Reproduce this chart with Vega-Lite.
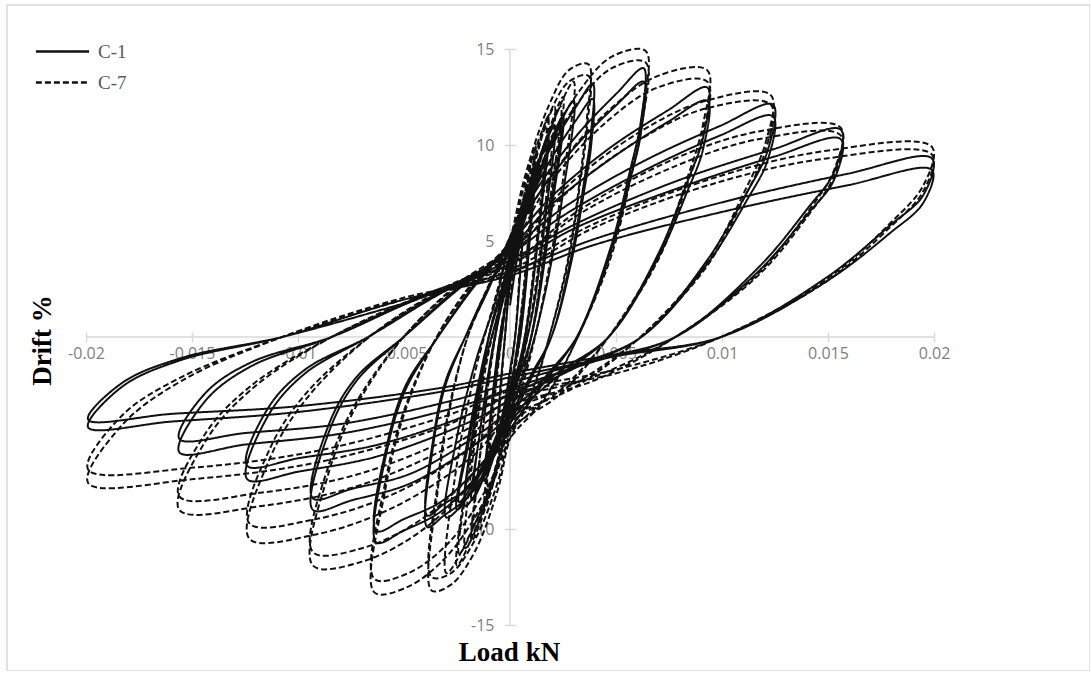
{
"$schema": "https://vega.github.io/schema/vega-lite/v6.json",
"width": 1083, "height": 666,
"autosize": {"type": "none"},
"padding": {"left": 7, "top": 5, "right": 0, "bottom": 0},
"background": "white",
"config": {"view": {"stroke": "#d9d9d9", "strokeWidth": 1.5}},
"resolve": {"axis": {"x": "independent", "y": "independent"}},
"layer": [
{"data": {"values": [{}]},
 "mark": {"type": "rule", "color": "#d9d9d9", "strokeWidth": 1.5},
 "encoding": {"x": {"datum": -0.02, "type": "quantitative", "scale": {"domain": [-0.023726, 0.027358], "nice": false, "zero": false},
    "axis": {"orient": "bottom", "values": [-0.02, -0.015, -0.01, -0.005, 0, 0.005, 0.01, 0.015, 0.02], "offset": -334, "domain": false, "grid": false, "labels": false, "title": null, "tickColor": "#d9d9d9", "tickWidth": 1.5, "tickSize": -5}},
  "x2": {"datum": 0.02},
  "y": {"datum": 0, "type": "quantitative", "scale": {"domain": [-17.3958, 17.2917], "nice": false, "zero": false},
    "axis": {"orient": "left", "values": [-15, -10, -5, 5, 10, 15], "offset": -503, "domain": false, "grid": false, "labels": false, "title": null, "tickColor": "#d9d9d9", "tickWidth": 1.5, "tickSize": -6}}}},
{"data": {"values": [{}]},
 "mark": {"type": "rule", "color": "#d9d9d9", "strokeWidth": 1.5},
 "encoding": {"y": {"datum": -15, "type": "quantitative", "axis": null}, "y2": {"datum": 15}, "x": {"datum": 0, "type": "quantitative", "axis": null}}},
{"data": {"values": [
{"s":"C-1","x":0,"y":1.65},{"s":"C-1","x":0.0003,"y":3.85},{"s":"C-1","x":0.0006,"y":5.5},{"s":"C-1","x":0.00048,"y":3.3},{"s":"C-1","x":0.00024,"y":0},{"s":"C-1","x":0,"y":-1.75},{"s":"C-1","x":-0.0003,"y":-3.75},{"s":"C-1","x":-0.0006,"y":-5},{"s":"C-1","x":-0.00048,"y":-3},{"s":"C-1","x":-0.00024,"y":0},
{"s":"C-1","x":0,"y":2.7},{"s":"C-1","x":0.0006,"y":6.3},{"s":"C-1","x":0.0012,"y":9},{"s":"C-1","x":0.00096,"y":5.4},{"s":"C-1","x":0.00048,"y":0},{"s":"C-1","x":0,"y":-2.6},{"s":"C-1","x":-0.0006,"y":-5.6},{"s":"C-1","x":-0.0012,"y":-7.5},{"s":"C-1","x":-0.00096,"y":-4.5},{"s":"C-1","x":-0.00048,"y":0},
{"s":"C-1","x":0,"y":2.8},{"s":"C-1","x":0.0006,"y":6},{"s":"C-1","x":0.0011,"y":8.5},{"s":"C-1","x":0.0009,"y":5},{"s":"C-1","x":0.0004,"y":0},{"s":"C-1","x":0,"y":-2.7},{"s":"C-1","x":-0.0006,"y":-5.3},{"s":"C-1","x":-0.0011,"y":-7},{"s":"C-1","x":-0.0009,"y":-4.2},{"s":"C-1","x":-0.0004,"y":0},
{"s":"C-1","x":0,"y":3.2},{"s":"C-1","x":0.0009,"y":7.4},{"s":"C-1","x":0.0018,"y":10.5},{"s":"C-1","x":0.00144,"y":6.3},{"s":"C-1","x":0.00072,"y":0},{"s":"C-1","x":0,"y":-3},{"s":"C-1","x":-0.0009,"y":-6.4},{"s":"C-1","x":-0.0018,"y":-8.5},{"s":"C-1","x":-0.00144,"y":-5.1},{"s":"C-1","x":-0.00072,"y":0},
{"s":"C-1","x":0,"y":3.3},{"s":"C-1","x":0.0009,"y":7.1},{"s":"C-1","x":0.0017,"y":10},{"s":"C-1","x":0.0014,"y":6},{"s":"C-1","x":0.0007,"y":0},{"s":"C-1","x":0,"y":-3.1},{"s":"C-1","x":-0.0009,"y":-6.1},{"s":"C-1","x":-0.0017,"y":-8},{"s":"C-1","x":-0.0014,"y":-4.8},{"s":"C-1","x":-0.0007,"y":0},
{"s":"C-1","x":0,"y":3.5},{"s":"C-1","x":0.00125,"y":8.1},{"s":"C-1","x":0.0025,"y":11.5},{"s":"C-1","x":0.002,"y":6.9},{"s":"C-1","x":0.001,"y":0},{"s":"C-1","x":0,"y":-3.2},{"s":"C-1","x":-0.00125,"y":-6.8},{"s":"C-1","x":-0.0025,"y":-9},{"s":"C-1","x":-0.002,"y":-5.4},{"s":"C-1","x":-0.001,"y":0},
{"s":"C-1","x":0,"y":3.6},{"s":"C-1","x":0.0012,"y":7.8},{"s":"C-1","x":0.0024,"y":11},{"s":"C-1","x":0.0019,"y":6.6},{"s":"C-1","x":0.001,"y":0},{"s":"C-1","x":0,"y":-3.3},{"s":"C-1","x":-0.0012,"y":-6.5},{"s":"C-1","x":-0.0024,"y":-8.6},{"s":"C-1","x":-0.0019,"y":-5.2},{"s":"C-1","x":-0.001,"y":0},
{"s":"C-1","x":0,"y":4},{"s":"C-1","x":0.001,"y":8},{"s":"C-1","x":0.0021,"y":11},{"s":"C-1","x":0.0017,"y":6.5},{"s":"C-1","x":0.0011,"y":1.5},{"s":"C-1","x":0.0006,"y":-1},{"s":"C-1","x":0,"y":-3.5},{"s":"C-1","x":-0.001,"y":-6.8},{"s":"C-1","x":-0.0021,"y":-8.8},{"s":"C-1","x":-0.0017,"y":-4.6},{"s":"C-1","x":-0.0011,"y":-1},{"s":"C-1","x":-0.0005,"y":1.5},
{"s":"C-1","x":0,"y":4.2},{"s":"C-1","x":0.0014,"y":8.6},{"s":"C-1","x":0.003,"y":12.3},{"s":"C-1","x":0.0025,"y":7.5},{"s":"C-1","x":0.0016,"y":2},{"s":"C-1","x":0.0008,"y":-1.4},{"s":"C-1","x":0,"y":-3.9},{"s":"C-1","x":-0.0014,"y":-7.4},{"s":"C-1","x":-0.003,"y":-9.4},{"s":"C-1","x":-0.0025,"y":-5.2},{"s":"C-1","x":-0.0016,"y":-1.2},{"s":"C-1","x":-0.0007,"y":1.8},
{"s":"C-1","x":0,"y":4.9},{"s":"C-1","x":0.00078,"y":7.3},{"s":"C-1","x":0.00195,"y":9.9},{"s":"C-1","x":0.00312,"y":12},{"s":"C-1","x":0.0039,"y":13.2},{"s":"C-1","x":0.00382,"y":10.6},{"s":"C-1","x":0.00351,"y":8.2},{"s":"C-1","x":0.00293,"y":4.4},{"s":"C-1","x":0.00195,"y":0},{"s":"C-1","x":0.00098,"y":-2.2},{"s":"C-1","x":0,"y":-4.5},{"s":"C-1","x":-0.00059,"y":-5.9},{"s":"C-1","x":-0.00195,"y":-8.3},{"s":"C-1","x":-0.00312,"y":-9.3},{"s":"C-1","x":-0.0039,"y":-9.9},{"s":"C-1","x":-0.00359,"y":-5.4},{"s":"C-1","x":-0.00304,"y":-2.5},{"s":"C-1","x":-0.00211,"y":0},{"s":"C-1","x":-0.00101,"y":2.6},
{"s":"C-1","x":0,"y":4.6},{"s":"C-1","x":0.00078,"y":6.8},{"s":"C-1","x":0.00195,"y":9.3},{"s":"C-1","x":0.00312,"y":11.3},{"s":"C-1","x":0.0039,"y":12.4},{"s":"C-1","x":0.00382,"y":9.9},{"s":"C-1","x":0.00351,"y":7.7},{"s":"C-1","x":0.00293,"y":4.1},{"s":"C-1","x":0.00195,"y":0},{"s":"C-1","x":0.00098,"y":-2},{"s":"C-1","x":0,"y":-4.2},{"s":"C-1","x":-0.00059,"y":-5.6},{"s":"C-1","x":-0.00195,"y":-7.8},{"s":"C-1","x":-0.00312,"y":-8.7},{"s":"C-1","x":-0.0039,"y":-9.3},{"s":"C-1","x":-0.00359,"y":-5.1},{"s":"C-1","x":-0.00304,"y":-2.3},{"s":"C-1","x":-0.00211,"y":0},{"s":"C-1","x":-0.00101,"y":2.5},
{"s":"C-1","x":0,"y":5.2},{"s":"C-1","x":0.00126,"y":7.7},{"s":"C-1","x":0.00315,"y":10.5},{"s":"C-1","x":0.00504,"y":12.7},{"s":"C-1","x":0.0063,"y":14},{"s":"C-1","x":0.00617,"y":11.2},{"s":"C-1","x":0.00567,"y":8.7},{"s":"C-1","x":0.00473,"y":4.6},{"s":"C-1","x":0.00315,"y":0},{"s":"C-1","x":0.00158,"y":-2.4},{"s":"C-1","x":0,"y":-4.8},{"s":"C-1","x":-0.00095,"y":-6.4},{"s":"C-1","x":-0.00315,"y":-9},{"s":"C-1","x":-0.00504,"y":-10.1},{"s":"C-1","x":-0.0063,"y":-10.7},{"s":"C-1","x":-0.0058,"y":-5.9},{"s":"C-1","x":-0.00491,"y":-2.7},{"s":"C-1","x":-0.0034,"y":0},{"s":"C-1","x":-0.00164,"y":2.8},
{"s":"C-1","x":0,"y":4.9},{"s":"C-1","x":0.00126,"y":7.3},{"s":"C-1","x":0.00315,"y":10},{"s":"C-1","x":0.00504,"y":12.1},{"s":"C-1","x":0.0063,"y":13.3},{"s":"C-1","x":0.00617,"y":10.6},{"s":"C-1","x":0.00567,"y":8.2},{"s":"C-1","x":0.00473,"y":4.4},{"s":"C-1","x":0.00315,"y":0},{"s":"C-1","x":0.00158,"y":-2.2},{"s":"C-1","x":0,"y":-4.5},{"s":"C-1","x":-0.00095,"y":-6.1},{"s":"C-1","x":-0.00315,"y":-8.5},{"s":"C-1","x":-0.00504,"y":-9.5},{"s":"C-1","x":-0.0063,"y":-10.1},{"s":"C-1","x":-0.0058,"y":-5.6},{"s":"C-1","x":-0.00491,"y":-2.5},{"s":"C-1","x":-0.0034,"y":0},{"s":"C-1","x":-0.00164,"y":2.7},
{"s":"C-1","x":0,"y":4.8},{"s":"C-1","x":0.00186,"y":7.2},{"s":"C-1","x":0.00465,"y":9.8},{"s":"C-1","x":0.00744,"y":11.8},{"s":"C-1","x":0.0093,"y":13},{"s":"C-1","x":0.00911,"y":10.4},{"s":"C-1","x":0.00837,"y":8.1},{"s":"C-1","x":0.00698,"y":4.3},{"s":"C-1","x":0.00465,"y":0},{"s":"C-1","x":0.00233,"y":-2},{"s":"C-1","x":0,"y":-4.1},{"s":"C-1","x":-0.0014,"y":-5.4},{"s":"C-1","x":-0.00465,"y":-7.6},{"s":"C-1","x":-0.00744,"y":-8.5},{"s":"C-1","x":-0.0093,"y":-9},{"s":"C-1","x":-0.00856,"y":-5},{"s":"C-1","x":-0.00725,"y":-2.3},{"s":"C-1","x":-0.00502,"y":0},{"s":"C-1","x":-0.00242,"y":2.6},
{"s":"C-1","x":0,"y":4.6},{"s":"C-1","x":0.00186,"y":6.8},{"s":"C-1","x":0.00465,"y":9.2},{"s":"C-1","x":0.00744,"y":11.2},{"s":"C-1","x":0.0093,"y":12.3},{"s":"C-1","x":0.00911,"y":9.8},{"s":"C-1","x":0.00837,"y":7.6},{"s":"C-1","x":0.00698,"y":4.1},{"s":"C-1","x":0.00465,"y":0},{"s":"C-1","x":0.00233,"y":-1.8},{"s":"C-1","x":0,"y":-3.8},{"s":"C-1","x":-0.0014,"y":-5},{"s":"C-1","x":-0.00465,"y":-7.1},{"s":"C-1","x":-0.00744,"y":-7.9},{"s":"C-1","x":-0.0093,"y":-8.4},{"s":"C-1","x":-0.00856,"y":-4.6},{"s":"C-1","x":-0.00725,"y":-2.1},{"s":"C-1","x":-0.00502,"y":0},{"s":"C-1","x":-0.00242,"y":2.5},
{"s":"C-1","x":0,"y":4.5},{"s":"C-1","x":0.00248,"y":6.7},{"s":"C-1","x":0.0062,"y":9.1},{"s":"C-1","x":0.00992,"y":11},{"s":"C-1","x":0.0124,"y":12.1},{"s":"C-1","x":0.01215,"y":9.7},{"s":"C-1","x":0.01116,"y":7.5},{"s":"C-1","x":0.0093,"y":4},{"s":"C-1","x":0.0062,"y":0},{"s":"C-1","x":0.0031,"y":-1.6},{"s":"C-1","x":0,"y":-3.3},{"s":"C-1","x":-0.00186,"y":-4.4},{"s":"C-1","x":-0.0062,"y":-6.2},{"s":"C-1","x":-0.00992,"y":-7},{"s":"C-1","x":-0.0124,"y":-7.4},{"s":"C-1","x":-0.01141,"y":-4.1},{"s":"C-1","x":-0.00967,"y":-1.9},{"s":"C-1","x":-0.0067,"y":0},{"s":"C-1","x":-0.00322,"y":2.4},
{"s":"C-1","x":0,"y":4.3},{"s":"C-1","x":0.00248,"y":6.3},{"s":"C-1","x":0.0062,"y":8.6},{"s":"C-1","x":0.00992,"y":10.5},{"s":"C-1","x":0.0124,"y":11.5},{"s":"C-1","x":0.01215,"y":9.2},{"s":"C-1","x":0.01116,"y":7.1},{"s":"C-1","x":0.0093,"y":3.8},{"s":"C-1","x":0.0062,"y":0},{"s":"C-1","x":0.0031,"y":-1.5},{"s":"C-1","x":0,"y":-3},{"s":"C-1","x":-0.00186,"y":-4},{"s":"C-1","x":-0.0062,"y":-5.6},{"s":"C-1","x":-0.00992,"y":-6.3},{"s":"C-1","x":-0.0124,"y":-6.7},{"s":"C-1","x":-0.01141,"y":-3.7},{"s":"C-1","x":-0.00967,"y":-1.7},{"s":"C-1","x":-0.0067,"y":0},{"s":"C-1","x":-0.00322,"y":2.3},
{"s":"C-1","x":0,"y":4},{"s":"C-1","x":0.00312,"y":5.9},{"s":"C-1","x":0.0078,"y":8.1},{"s":"C-1","x":0.01248,"y":9.8},{"s":"C-1","x":0.0156,"y":10.8},{"s":"C-1","x":0.01529,"y":8.6},{"s":"C-1","x":0.01404,"y":6.7},{"s":"C-1","x":0.0117,"y":3.6},{"s":"C-1","x":0.0078,"y":0},{"s":"C-1","x":0.0039,"y":-1.3},{"s":"C-1","x":0,"y":-2.7},{"s":"C-1","x":-0.00234,"y":-3.6},{"s":"C-1","x":-0.0078,"y":-5},{"s":"C-1","x":-0.01248,"y":-5.6},{"s":"C-1","x":-0.0156,"y":-6},{"s":"C-1","x":-0.01435,"y":-3.3},{"s":"C-1","x":-0.01217,"y":-1.5},{"s":"C-1","x":-0.00842,"y":0},{"s":"C-1","x":-0.00406,"y":2.2},
{"s":"C-1","x":0,"y":3.8},{"s":"C-1","x":0.00312,"y":5.7},{"s":"C-1","x":0.0078,"y":7.7},{"s":"C-1","x":0.01248,"y":9.4},{"s":"C-1","x":0.0156,"y":10.3},{"s":"C-1","x":0.01529,"y":8.2},{"s":"C-1","x":0.01404,"y":6.4},{"s":"C-1","x":0.0117,"y":3.4},{"s":"C-1","x":0.0078,"y":0},{"s":"C-1","x":0.0039,"y":-1.2},{"s":"C-1","x":0,"y":-2.4},{"s":"C-1","x":-0.00234,"y":-3.2},{"s":"C-1","x":-0.0078,"y":-4.5},{"s":"C-1","x":-0.01248,"y":-5},{"s":"C-1","x":-0.0156,"y":-5.3},{"s":"C-1","x":-0.01435,"y":-2.9},{"s":"C-1","x":-0.01217,"y":-1.3},{"s":"C-1","x":-0.00842,"y":0},{"s":"C-1","x":-0.00406,"y":2.1},
{"s":"C-1","x":0,"y":3.4},{"s":"C-1","x":0.00398,"y":5.1},{"s":"C-1","x":0.00995,"y":7},{"s":"C-1","x":0.01592,"y":8.5},{"s":"C-1","x":0.0199,"y":9.3},{"s":"C-1","x":0.0195,"y":7.4},{"s":"C-1","x":0.01791,"y":5.8},{"s":"C-1","x":0.01493,"y":3.1},{"s":"C-1","x":0.00995,"y":0},{"s":"C-1","x":0.00498,"y":-1},{"s":"C-1","x":0,"y":-2.1},{"s":"C-1","x":-0.00299,"y":-2.8},{"s":"C-1","x":-0.00995,"y":-3.9},{"s":"C-1","x":-0.01592,"y":-4.4},{"s":"C-1","x":-0.0199,"y":-4.7},{"s":"C-1","x":-0.01831,"y":-2.6},{"s":"C-1","x":-0.01552,"y":-1.2},{"s":"C-1","x":-0.01075,"y":0},{"s":"C-1","x":-0.00517,"y":1.9},
{"s":"C-1","x":0,"y":3.2},{"s":"C-1","x":0.00398,"y":4.8},{"s":"C-1","x":0.00995,"y":6.5},{"s":"C-1","x":0.01592,"y":7.9},{"s":"C-1","x":0.0199,"y":8.7},{"s":"C-1","x":0.0195,"y":7},{"s":"C-1","x":0.01791,"y":5.4},{"s":"C-1","x":0.01493,"y":2.9},{"s":"C-1","x":0.00995,"y":0},{"s":"C-1","x":0.00498,"y":-0.9},{"s":"C-1","x":0,"y":-1.9},{"s":"C-1","x":-0.00299,"y":-2.6},{"s":"C-1","x":-0.00995,"y":-3.6},{"s":"C-1","x":-0.01592,"y":-4},{"s":"C-1","x":-0.0199,"y":-4.3},{"s":"C-1","x":-0.01831,"y":-2.4},{"s":"C-1","x":-0.01552,"y":-1.1},{"s":"C-1","x":-0.01075,"y":0},{"s":"C-1","x":-0.00517,"y":1.7},
{"s":"C-7","x":0,"y":2},{"s":"C-7","x":0.0003,"y":4.6},{"s":"C-7","x":0.0006,"y":6.5},{"s":"C-7","x":0.00048,"y":3.9},{"s":"C-7","x":0.00024,"y":0},{"s":"C-7","x":0,"y":-2.1},{"s":"C-7","x":-0.0003,"y":-4.5},{"s":"C-7","x":-0.0006,"y":-6},{"s":"C-7","x":-0.00048,"y":-3.6},{"s":"C-7","x":-0.00024,"y":0},
{"s":"C-7","x":0,"y":3},{"s":"C-7","x":0.0006,"y":7},{"s":"C-7","x":0.0012,"y":10},{"s":"C-7","x":0.00096,"y":6},{"s":"C-7","x":0.00048,"y":0},{"s":"C-7","x":0,"y":-3.2},{"s":"C-7","x":-0.0006,"y":-6.8},{"s":"C-7","x":-0.0012,"y":-9},{"s":"C-7","x":-0.00096,"y":-5.4},{"s":"C-7","x":-0.00048,"y":0},
{"s":"C-7","x":0,"y":3.1},{"s":"C-7","x":0.0006,"y":6.7},{"s":"C-7","x":0.0011,"y":9.5},{"s":"C-7","x":0.0009,"y":5.7},{"s":"C-7","x":0.0004,"y":0},{"s":"C-7","x":0,"y":-3.3},{"s":"C-7","x":-0.0006,"y":-6.5},{"s":"C-7","x":-0.0011,"y":-8.6},{"s":"C-7","x":-0.0009,"y":-5.2},{"s":"C-7","x":-0.0004,"y":0},
{"s":"C-7","x":0,"y":3.5},{"s":"C-7","x":0.0009,"y":8.1},{"s":"C-7","x":0.0018,"y":11.5},{"s":"C-7","x":0.00144,"y":6.9},{"s":"C-7","x":0.00072,"y":0},{"s":"C-7","x":0,"y":-3.7},{"s":"C-7","x":-0.0009,"y":-8},{"s":"C-7","x":-0.0018,"y":-10.6},{"s":"C-7","x":-0.00144,"y":-6.4},{"s":"C-7","x":-0.00072,"y":0},
{"s":"C-7","x":0,"y":3.6},{"s":"C-7","x":0.0009,"y":7.8},{"s":"C-7","x":0.0017,"y":11},{"s":"C-7","x":0.0014,"y":6.6},{"s":"C-7","x":0.0007,"y":0},{"s":"C-7","x":0,"y":-3.8},{"s":"C-7","x":-0.0009,"y":-7.6},{"s":"C-7","x":-0.0017,"y":-10.1},{"s":"C-7","x":-0.0014,"y":-6.1},{"s":"C-7","x":-0.0007,"y":0},
{"s":"C-7","x":0,"y":3.8},{"s":"C-7","x":0.00125,"y":8.8},{"s":"C-7","x":0.0025,"y":12.5},{"s":"C-7","x":0.002,"y":7.5},{"s":"C-7","x":0.001,"y":0},{"s":"C-7","x":0,"y":-4.2},{"s":"C-7","x":-0.00125,"y":-8.9},{"s":"C-7","x":-0.0025,"y":-11.9},{"s":"C-7","x":-0.002,"y":-7.1},{"s":"C-7","x":-0.001,"y":0},
{"s":"C-7","x":0,"y":3.9},{"s":"C-7","x":0.0012,"y":8.5},{"s":"C-7","x":0.0024,"y":12},{"s":"C-7","x":0.0019,"y":7.2},{"s":"C-7","x":0.001,"y":0},{"s":"C-7","x":0,"y":-4.3},{"s":"C-7","x":-0.0012,"y":-8.5},{"s":"C-7","x":-0.0024,"y":-11.3},{"s":"C-7","x":-0.0019,"y":-6.8},{"s":"C-7","x":-0.001,"y":0},
{"s":"C-7","x":0,"y":4.3},{"s":"C-7","x":0.001,"y":8.7},{"s":"C-7","x":0.0021,"y":12},{"s":"C-7","x":0.0017,"y":7.2},{"s":"C-7","x":0.0011,"y":1.8},{"s":"C-7","x":0.0006,"y":-1.2},{"s":"C-7","x":0,"y":-4},{"s":"C-7","x":-0.001,"y":-8.2},{"s":"C-7","x":-0.0021,"y":-11},{"s":"C-7","x":-0.0017,"y":-5.8},{"s":"C-7","x":-0.0011,"y":-1.3},{"s":"C-7","x":-0.0005,"y":1.6},
{"s":"C-7","x":0,"y":4.5},{"s":"C-7","x":0.0014,"y":9.4},{"s":"C-7","x":0.003,"y":13.3},{"s":"C-7","x":0.0025,"y":8.2},{"s":"C-7","x":0.0016,"y":2.2},{"s":"C-7","x":0.0008,"y":-1.7},{"s":"C-7","x":0,"y":-4.6},{"s":"C-7","x":-0.0014,"y":-9.1},{"s":"C-7","x":-0.003,"y":-12.3},{"s":"C-7","x":-0.0025,"y":-6.6},{"s":"C-7","x":-0.0016,"y":-1.6},{"s":"C-7","x":-0.0007,"y":2},
{"s":"C-7","x":0,"y":5},{"s":"C-7","x":0.00074,"y":8.5},{"s":"C-7","x":0.00185,"y":12.1},{"s":"C-7","x":0.00278,"y":13.9},{"s":"C-7","x":0.0037,"y":14.2},{"s":"C-7","x":0.00363,"y":11.4},{"s":"C-7","x":0.00333,"y":8.5},{"s":"C-7","x":0.00278,"y":4.3},{"s":"C-7","x":0.00185,"y":0},{"s":"C-7","x":0.00093,"y":-3.3},{"s":"C-7","x":0,"y":-5.3},{"s":"C-7","x":-0.00056,"y":-7.9},{"s":"C-7","x":-0.00167,"y":-11.2},{"s":"C-7","x":-0.00278,"y":-12.9},{"s":"C-7","x":-0.0037,"y":-13.2},{"s":"C-7","x":-0.0034,"y":-7.9},{"s":"C-7","x":-0.00289,"y":-4},{"s":"C-7","x":-0.002,"y":0},{"s":"C-7","x":-0.00096,"y":2.8},
{"s":"C-7","x":0,"y":4.8},{"s":"C-7","x":0.00074,"y":8.2},{"s":"C-7","x":0.00185,"y":11.6},{"s":"C-7","x":0.00278,"y":13.3},{"s":"C-7","x":0.0037,"y":13.6},{"s":"C-7","x":0.00363,"y":10.9},{"s":"C-7","x":0.00333,"y":8.2},{"s":"C-7","x":0.00278,"y":4.1},{"s":"C-7","x":0.00185,"y":0},{"s":"C-7","x":0.00093,"y":-3.1},{"s":"C-7","x":0,"y":-5},{"s":"C-7","x":-0.00056,"y":-7.5},{"s":"C-7","x":-0.00167,"y":-10.6},{"s":"C-7","x":-0.00278,"y":-12.3},{"s":"C-7","x":-0.0037,"y":-12.5},{"s":"C-7","x":-0.0034,"y":-7.5},{"s":"C-7","x":-0.00289,"y":-3.8},{"s":"C-7","x":-0.002,"y":0},{"s":"C-7","x":-0.00096,"y":2.7},
{"s":"C-7","x":0,"y":5.2},{"s":"C-7","x":0.00128,"y":8.9},{"s":"C-7","x":0.0032,"y":12.7},{"s":"C-7","x":0.0048,"y":14.6},{"s":"C-7","x":0.0064,"y":14.9},{"s":"C-7","x":0.00627,"y":11.9},{"s":"C-7","x":0.00576,"y":8.9},{"s":"C-7","x":0.0048,"y":4.5},{"s":"C-7","x":0.0032,"y":0},{"s":"C-7","x":0.0016,"y":-3.3},{"s":"C-7","x":0,"y":-5.3},{"s":"C-7","x":-0.00096,"y":-8},{"s":"C-7","x":-0.00288,"y":-11.3},{"s":"C-7","x":-0.0048,"y":-13},{"s":"C-7","x":-0.0064,"y":-13.3},{"s":"C-7","x":-0.00589,"y":-8},{"s":"C-7","x":-0.00499,"y":-4},{"s":"C-7","x":-0.00346,"y":0},{"s":"C-7","x":-0.00166,"y":3},
{"s":"C-7","x":0,"y":5},{"s":"C-7","x":0.00128,"y":8.6},{"s":"C-7","x":0.0032,"y":12.2},{"s":"C-7","x":0.0048,"y":14},{"s":"C-7","x":0.0064,"y":14.3},{"s":"C-7","x":0.00627,"y":11.4},{"s":"C-7","x":0.00576,"y":8.6},{"s":"C-7","x":0.0048,"y":4.3},{"s":"C-7","x":0.0032,"y":0},{"s":"C-7","x":0.0016,"y":-3.2},{"s":"C-7","x":0,"y":-5},{"s":"C-7","x":-0.00096,"y":-7.6},{"s":"C-7","x":-0.00288,"y":-10.7},{"s":"C-7","x":-0.0048,"y":-12.3},{"s":"C-7","x":-0.0064,"y":-12.6},{"s":"C-7","x":-0.00589,"y":-7.6},{"s":"C-7","x":-0.00499,"y":-3.8},{"s":"C-7","x":-0.00346,"y":0},{"s":"C-7","x":-0.00166,"y":2.9},
{"s":"C-7","x":0,"y":4.9},{"s":"C-7","x":0.00186,"y":8.3},{"s":"C-7","x":0.00465,"y":11.8},{"s":"C-7","x":0.00698,"y":13.6},{"s":"C-7","x":0.0093,"y":13.9},{"s":"C-7","x":0.00911,"y":11.1},{"s":"C-7","x":0.00837,"y":8.3},{"s":"C-7","x":0.00698,"y":4.2},{"s":"C-7","x":0.00465,"y":0},{"s":"C-7","x":0.00233,"y":-3},{"s":"C-7","x":0,"y":-4.8},{"s":"C-7","x":-0.0014,"y":-7.1},{"s":"C-7","x":-0.00419,"y":-10.1},{"s":"C-7","x":-0.00698,"y":-11.7},{"s":"C-7","x":-0.0093,"y":-11.9},{"s":"C-7","x":-0.00856,"y":-7.1},{"s":"C-7","x":-0.00725,"y":-3.6},{"s":"C-7","x":-0.00502,"y":0},{"s":"C-7","x":-0.00242,"y":2.8},
{"s":"C-7","x":0,"y":4.7},{"s":"C-7","x":0.00186,"y":8},{"s":"C-7","x":0.00465,"y":11.3},{"s":"C-7","x":0.00698,"y":13},{"s":"C-7","x":0.0093,"y":13.3},{"s":"C-7","x":0.00911,"y":10.6},{"s":"C-7","x":0.00837,"y":8},{"s":"C-7","x":0.00698,"y":4},{"s":"C-7","x":0.00465,"y":0},{"s":"C-7","x":0.00233,"y":-2.8},{"s":"C-7","x":0,"y":-4.5},{"s":"C-7","x":-0.0014,"y":-6.7},{"s":"C-7","x":-0.00419,"y":-9.5},{"s":"C-7","x":-0.00698,"y":-11},{"s":"C-7","x":-0.0093,"y":-11.2},{"s":"C-7","x":-0.00856,"y":-6.7},{"s":"C-7","x":-0.00725,"y":-3.4},{"s":"C-7","x":-0.00502,"y":0},{"s":"C-7","x":-0.00242,"y":2.7},
{"s":"C-7","x":0,"y":4.4},{"s":"C-7","x":0.00246,"y":7.6},{"s":"C-7","x":0.00615,"y":10.7},{"s":"C-7","x":0.00923,"y":12.3},{"s":"C-7","x":0.0123,"y":12.6},{"s":"C-7","x":0.01205,"y":10.1},{"s":"C-7","x":0.01107,"y":7.6},{"s":"C-7","x":0.00923,"y":3.8},{"s":"C-7","x":0.00615,"y":0},{"s":"C-7","x":0.00308,"y":-2.6},{"s":"C-7","x":0,"y":-4.2},{"s":"C-7","x":-0.00185,"y":-6.3},{"s":"C-7","x":-0.00554,"y":-8.9},{"s":"C-7","x":-0.00923,"y":-10.3},{"s":"C-7","x":-0.0123,"y":-10.5},{"s":"C-7","x":-0.01132,"y":-6.3},{"s":"C-7","x":-0.00959,"y":-3.2},{"s":"C-7","x":-0.00664,"y":0},{"s":"C-7","x":-0.0032,"y":2.5},
{"s":"C-7","x":0,"y":4.2},{"s":"C-7","x":0.00246,"y":7.3},{"s":"C-7","x":0.00615,"y":10.3},{"s":"C-7","x":0.00923,"y":11.9},{"s":"C-7","x":0.0123,"y":12.1},{"s":"C-7","x":0.01205,"y":9.7},{"s":"C-7","x":0.01107,"y":7.3},{"s":"C-7","x":0.00923,"y":3.6},{"s":"C-7","x":0.00615,"y":0},{"s":"C-7","x":0.00308,"y":-2.4},{"s":"C-7","x":0,"y":-3.9},{"s":"C-7","x":-0.00185,"y":-5.8},{"s":"C-7","x":-0.00554,"y":-8.2},{"s":"C-7","x":-0.00923,"y":-9.5},{"s":"C-7","x":-0.0123,"y":-9.7},{"s":"C-7","x":-0.01132,"y":-5.8},{"s":"C-7","x":-0.00959,"y":-2.9},{"s":"C-7","x":-0.00664,"y":0},{"s":"C-7","x":-0.0032,"y":2.4},
{"s":"C-7","x":0,"y":3.8},{"s":"C-7","x":0.00312,"y":6.5},{"s":"C-7","x":0.0078,"y":9.3},{"s":"C-7","x":0.0117,"y":10.7},{"s":"C-7","x":0.0156,"y":10.9},{"s":"C-7","x":0.01529,"y":8.7},{"s":"C-7","x":0.01404,"y":6.5},{"s":"C-7","x":0.0117,"y":3.3},{"s":"C-7","x":0.0078,"y":0},{"s":"C-7","x":0.0039,"y":-2.3},{"s":"C-7","x":0,"y":-3.6},{"s":"C-7","x":-0.00234,"y":-5.4},{"s":"C-7","x":-0.00702,"y":-7.7},{"s":"C-7","x":-0.0117,"y":-8.8},{"s":"C-7","x":-0.0156,"y":-9},{"s":"C-7","x":-0.01435,"y":-5.4},{"s":"C-7","x":-0.01217,"y":-2.7},{"s":"C-7","x":-0.00842,"y":0},{"s":"C-7","x":-0.00406,"y":2.2},
{"s":"C-7","x":0,"y":3.7},{"s":"C-7","x":0.00312,"y":6.3},{"s":"C-7","x":0.0078,"y":8.9},{"s":"C-7","x":0.0117,"y":10.3},{"s":"C-7","x":0.0156,"y":10.5},{"s":"C-7","x":0.01529,"y":8.4},{"s":"C-7","x":0.01404,"y":6.3},{"s":"C-7","x":0.0117,"y":3.2},{"s":"C-7","x":0.0078,"y":0},{"s":"C-7","x":0.0039,"y":-2.1},{"s":"C-7","x":0,"y":-3.3},{"s":"C-7","x":-0.00234,"y":-5},{"s":"C-7","x":-0.00702,"y":-7.1},{"s":"C-7","x":-0.0117,"y":-8.1},{"s":"C-7","x":-0.0156,"y":-8.3},{"s":"C-7","x":-0.01435,"y":-5},{"s":"C-7","x":-0.01217,"y":-2.5},{"s":"C-7","x":-0.00842,"y":0},{"s":"C-7","x":-0.00406,"y":2.1},
{"s":"C-7","x":0,"y":3.5},{"s":"C-7","x":0.00398,"y":5.9},{"s":"C-7","x":0.00995,"y":8.4},{"s":"C-7","x":0.01493,"y":9.7},{"s":"C-7","x":0.0199,"y":9.9},{"s":"C-7","x":0.0195,"y":7.9},{"s":"C-7","x":0.01791,"y":5.9},{"s":"C-7","x":0.01493,"y":3},{"s":"C-7","x":0.00995,"y":0},{"s":"C-7","x":0.00498,"y":-1.9},{"s":"C-7","x":0,"y":-3},{"s":"C-7","x":-0.00299,"y":-4.6},{"s":"C-7","x":-0.00896,"y":-6.5},{"s":"C-7","x":-0.01493,"y":-7.4},{"s":"C-7","x":-0.0199,"y":-7.6},{"s":"C-7","x":-0.01831,"y":-4.6},{"s":"C-7","x":-0.01552,"y":-2.3},{"s":"C-7","x":-0.01075,"y":0},{"s":"C-7","x":-0.00517,"y":2},
{"s":"C-7","x":0,"y":3.3},{"s":"C-7","x":0.00398,"y":5.7},{"s":"C-7","x":0.00995,"y":8.1},{"s":"C-7","x":0.01493,"y":9.3},{"s":"C-7","x":0.0199,"y":9.5},{"s":"C-7","x":0.0195,"y":7.6},{"s":"C-7","x":0.01791,"y":5.7},{"s":"C-7","x":0.01493,"y":2.9},{"s":"C-7","x":0.00995,"y":0},{"s":"C-7","x":0.00498,"y":-1.7},{"s":"C-7","x":0,"y":-2.8},{"s":"C-7","x":-0.00299,"y":-4.1},{"s":"C-7","x":-0.00896,"y":-5.9},{"s":"C-7","x":-0.01493,"y":-6.8},{"s":"C-7","x":-0.0199,"y":-6.9},{"s":"C-7","x":-0.01831,"y":-4.1},{"s":"C-7","x":-0.01552,"y":-2.1},{"s":"C-7","x":-0.01075,"y":0},{"s":"C-7","x":-0.00517,"y":1.9}
]},
 "mark": {"type": "line", "color": "#111111", "strokeWidth": 2, "strokeJoin": "round", "interpolate": "catmull-rom"},
 "encoding": {
  "x": {"field": "x", "type": "quantitative",
        "scale": {"domain": [-0.023726, 0.027358], "nice": false, "zero": false},
        "axis": {"orient": "bottom", "values": [-0.02, -0.015, -0.01, -0.005, 0, 0.005, 0.01, 0.015, 0.02], "labelExpr": "toString(datum.value)", "offset": -334, "domain": false, "grid": false, "tickColor": "#d9d9d9", "tickWidth": 1.5, "tickSize": 5, "labelColor": "#808080", "labelFont": "Open Sans", "labelFontSize": 16, "labelPadding": 3, "labelOverlap": false, "labelFlush": false, "title": "Load kN", "titleFont": "Liberation Serif", "titleFontSize": 27, "titleFontWeight": "bold", "titleColor": "#000000", "titleX": 502, "titleY": 315, "titleAlign": "center", "titleBaseline": "middle"}},
  "y": {"field": "y", "type": "quantitative",
        "scale": {"domain": [-17.3958, 17.2917], "nice": false, "zero": false},
        "axis": {"orient": "left", "values": [-15, -10, -5, 5, 10, 15], "labelExpr": "toString(datum.value)", "offset": -503, "domain": false, "grid": false, "tickColor": "#d9d9d9", "tickWidth": 1.5, "tickSize": 6, "labelColor": "#808080", "labelFont": "Open Sans", "labelFontSize": 16, "labelPadding": 10, "labelOverlap": false, "title": "Drift %", "titleFont": "Liberation Serif", "titleFontSize": 27, "titleFontWeight": "bold", "titleColor": "#000000", "titleX": -468, "titleY": 335, "titleAngle": -90, "titleAlign": "center", "titleBaseline": "middle"}},
  "strokeDash": {"field": "s", "type": "nominal", "scale": {"domain": ["C-1", "C-7"], "range": [[1, 0], [6, 3]]},
        "legend": {"orient": "none", "legendX": 35, "legendY": 26, "title": null, "symbolType": "M-1.4,0H1.4", "symbolSize": 1444, "symbolStrokeWidth": 2.5, "symbolStrokeColor": "#111111", "symbolFillColor": "transparent", "labelFont": "Liberation Serif", "labelFontSize": 19, "labelColor": "#595959", "labelOffset": 15, "rowPadding": 0, "padding": 0}},
  "order": {"value": null}
 }}
]
}
